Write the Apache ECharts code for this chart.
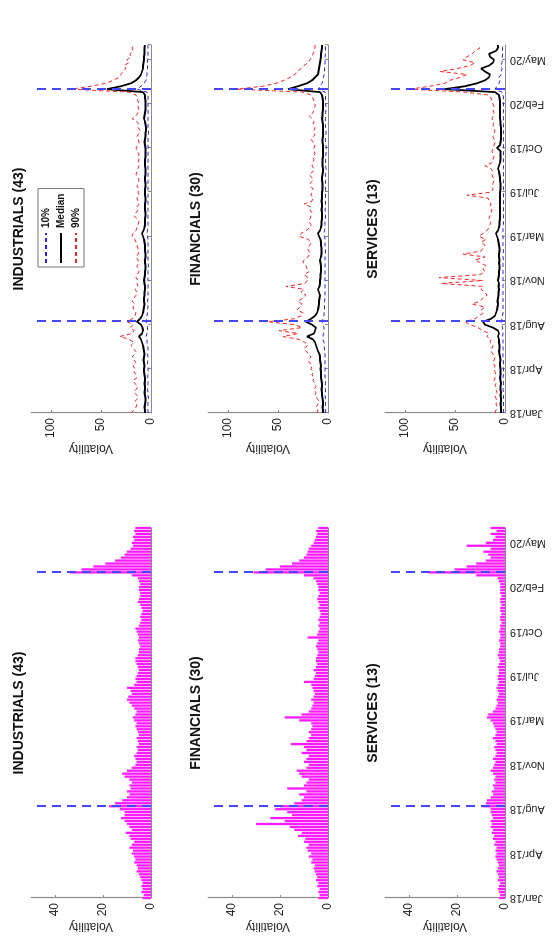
<!DOCTYPE html>
<html>
<head>
<meta charset="utf-8">
<script src="https://cdn.jsdelivr.net/npm/echarts@6/dist/echarts.min.js"></script>
<style>
  html, body { margin: 0; padding: 0; background: #fff; width: 556px; height: 941px; overflow: hidden; }
  /* the figure is a landscape page turned a quarter counter-clockwise */
  #chart { position: absolute; left: 0; top: 0; width: 941px; height: 556px;
           transform-origin: 0 0; transform: translate(0px, 941px) rotate(-90deg); }
</style>
</head>
<body>
<div id="chart"></div>
<script>
// weekly points, index 0 = first week of Jan/18
const tickLabels = ['Jan/18', 'Apr/18', 'Aug/18', 'Nov/18', 'Mar/19', 'Jul/19', 'Oct/19', 'Feb/20', 'May/20'];
const eventWeeks = [31, 110];
const sectors = ['INDUSTRIALS (43)', 'FINANCIALS (30)', 'SERVICES (13)'];

// left column: bars
const indBar = [3.5,3,4,3.5,4,3.5,4,4.5,5,6,5.5,6,7,6.5,7,
  8,7.5,9,8,7,8.5,9,10.5,8,9,10,11,12.5,11,11,
  13,17.5,15,12,10,9,10,8.5,9,8,9,11,12,10,8,
  6.5,6,6.5,7,6,5.5,6,5,5.5,6,5,5.5,6,6.5,6,
  7,7.5,6.5,6,7,8,9,10,9.5,8,8.5,10,7,6,6.5,
  6,5.5,5,5.5,6,6.5,6.5,5.5,5,5,4.5,5,5.5,5,5.5,
  6,6.5,5,4.5,4,4.5,4,3.5,4,4.5,5.5,5,4.5,4.5,5,
  5,4.5,5,5.5,8,34,29,24,19,15,12.5,11,10,8.5,7.5,
  8,7,7.5,6.5,7,6.5];
const finBar = [4,3.5,4,3.5,4.5,4,5,4.5,5,5.5,6,5.5,7,6.5,8,
  7,8.5,9,8,10,9.5,12.5,11,14,16,30,18,24,15,17,
  22,20,14,11,10,12,9,17,10,9,8,11,12,13,9,
  8,10,9,8,11,9,10,15.5,9,8,7,8,7,6.5,7,
  12,18,11,8,7,6.5,6,7,6,5.5,6,6.5,7,10,6,
  5.5,5,6,5,4.5,5,5,4.5,4,4.5,5,4.5,4,8.5,4.5,
  4,3.5,4,3.5,4,3.5,3,3.5,4,3.5,4,4.5,4,3.5,4,
  4,4.5,5,6,10,31,26,20,15,12,10,9,8.5,8,7,
  6,5.5,5,4.5,5,4];
const srvBar = [2.5,2,2.5,3,2.5,2,3,2.5,3,3.5,3,2.5,3,3.5,4,
  3.5,4,3.5,4.5,4,5,4.5,5.5,5,6,5.5,6,5,5.5,6,
  6,9.5,8,7.5,6,5,5.5,4.5,5,4,4.5,4,5,6,5,
  4.5,4,5,4,3.5,4,4.5,3.5,4,5,4,3.5,4,4.5,5,
  6,7.5,7,5,4,3.5,3,3.5,3,2.5,3,3.5,3,2.5,3,
  3,2.5,2.5,3,2.5,2,2.5,3,2.5,2.5,2,2,2.5,2,2,
  2.5,2,2,1.5,2,2,1.5,2,2,1.5,2,2,1.5,2,2,
  2,2,2.5,3,12,32,21,16,12,8,6,7,9,6,16,
  8,5,4,6,3.5,6];

// right column: 10% / median / 90%
const indP10 = [3,3,3.5,3,3,2.5,3,3,3.5,3,3,3,3.5,3,3,
  3,3,3.5,3,3,3.5,3,3,3.5,4,4,5,4,3.5,3.5,
  4,5,4.5,4,3.5,3.5,3,3,3.5,3,3,3,3,3,3,
  3,3,3,3,3,2.5,3,3,3,3,3,3,3,3,3,
  3.5,4,3.5,3,3,3,3,3,3,3,3,3,3,3,3,
  3,3,3,3,3,3,3,2.5,3,3,3,3,3,3,3,
  3,3,3,3,3,2.5,2.5,3,3,3,3,3,3,3,3,
  3,3,3,3,4,14,10,7,5,4.5,4,4,3.5,3.5,3.5,
  3.5,3,3,3,3,3];
const indMed = [6,6,6.5,6,5.5,5.5,6,6.5,6,6,6.5,6,6,6.5,7,
  7,6.5,7,7.5,7,6.5,7,7.5,8,9,10,12,9,8,8.5,
  10,14,11,9,8,7.5,7,6.5,7,7,6.5,6.5,6,6,6.5,
  7,6.5,6,6,5.5,5.5,6,6,5.5,5.5,6,6,6,6.5,7,
  8,9,7.5,6.5,6,6,6,5.5,5.5,6,6,6,5.5,5.5,6,
  6,6,5.5,5.5,6,6,5.5,5.5,5.5,6,6,6,5.5,5.5,5.5,
  5.5,6,6.5,6,5.5,5.5,5,5,5.5,6,7,6.5,6,5.5,5.5,
  5.5,5.5,6,6,8,44,30,20,15,12,10,9,8,8,7.5,
  7,7,6.5,6.5,6.5,6];
const indP90 = [20,17,15,14,16,13,14,17,15,13,16,18,14,15,17,
  16,18,15,17,19,16,15,18,20,17,22,31,19,17,21,
  18,24,19,16,15,17,18,16,19,17,15,14,16,13,14,
  13,15,14,12,13,14,12,13,15,13,12,13,14,15,16,
  19,18,15,14,13,12,14,17,15,13,14,12,13,14,12,
  13,12,14,13,12,13,15,14,13,12,13,12,13,12,14,
  15,13,12,13,14,12,11,13,12,14,19,15,13,12,13,
  12,13,14,15,22,80,60,45,38,32,30,28,25,27,22,
  24,20,21,18,19,17];

const finP10 = [2.5,2.5,3,2.5,2.5,2.5,3,2.5,2.5,3,2.5,2.5,3,3,3,
  3,3,3,3,3,3,3.5,3.5,4,4,5,5,4.5,4,4,
  5,6,5,4,4,3.5,3.5,3.5,3.5,3,3,3,3,3,3,
  3,3,3,3,3,3,3,3,3,2.5,2.5,2.5,3,3,3,
  3.5,4,3.5,3,3,3,2.5,2.5,2.5,3,2.5,2.5,2.5,2.5,2.5,
  2.5,2.5,2.5,2.5,2.5,2.5,2.5,2,2,2.5,2.5,2.5,2.5,2,2,
  2,2,2.5,2.5,2.5,2,2,2.5,2.5,2.5,2.5,2.5,2.5,2,2,
  2.5,2.5,2.5,2.5,3,10,8,6,5,4.5,4,3.5,3.5,3,3,
  3,3,2.5,2.5,2.5,2.5];
const finMed = [5,5,5.5,5,5,5.5,6,6,6.5,6,6,6.5,7,7,7,
  7.5,7,7.5,8,8,8.5,10,11,12,13,15,21,14,13,12,
  16,22,17,13,11,10,9.5,9,9,8.5,8,9,10,8.5,8,
  8,7.5,7.5,7,7,7,7.5,8,7,6.5,6.5,6.5,7,7,7.5,
  9,10,8,7,6.5,6.5,6,6,6,6.5,6,6,6.5,6,6,
  6,5.5,5.5,5.5,6,6,5.5,5,5,5.5,5.5,5.5,5,5,5,
  5,5,5.5,5.5,5,5,5,5,5,5.5,6,5.5,5.5,5,5,
  5,5,5.5,6,8,40,30,21,16,13,10,9.5,9,8.5,8,
  7.5,7,7,6.5,6,6];
const finP90 = [11,10,12,10,9,11,13,12,14,12,13,15,14,16,15,
  17,16,18,20,17,19,22,24,20,23,29,45,30,49,26,
  33,60,34,27,25,31,28,26,30,25,22,27,24,42,23,
  21,20,24,19,21,22,25,24,20,18,19,21,18,17,20,
  29,27,22,18,17,19,18,17,16,18,17,24,16,15,17,
  16,15,17,18,15,16,19,15,14,16,15,14,15,13,14,
  14,13,15,17,14,13,14,13,15,14,16,19,15,14,13,
  13,14,15,17,25,91,65,52,44,38,33,31,27,24,20,
  18,16,15,14,13,13];

const srvP10 = [1.5,1.5,1.5,1.5,1.5,1.5,1.5,1.5,2,1.5,1.5,1.5,2,1.5,1.5,
  1.5,2,1.5,1.5,2,2,1.5,2,2,2,2,2.5,2,2,2.5,
  3,4,3,2.5,2,2,2,2,2,2,2,2,2,2,2,
  2,2,2,2,2,2,2,1.5,2,2,1.5,2,2,2,2,
  2,2.5,2,2,1.5,1.5,1.5,1.5,1.5,1.5,1.5,1.5,1.5,1.5,1.5,
  1.5,1.5,1.5,1.5,1.5,1.5,1.5,1.5,1.5,1.5,1.5,1.5,1.5,1.5,1.5,
  1.5,1.5,1.5,1.5,1.5,1.5,1.5,1.5,1.5,1.5,1.5,1.5,1.5,1.5,1.5,
  1.5,1.5,1.5,2,3,10,8,6,5,6,4,3.5,3,4,3,
  3,2.5,2.5,2.5,2.5,2];
const srvMed = [4,4,4,4.5,4,4,4.5,4,4.5,4.5,4,4.5,5,4.5,4.5,
  4.5,5,5,4.5,5,5.5,6,5.5,5.5,6,6,7,6,7,12,
  20,22,14,10,9,8,7.5,7,7.5,7,6.5,6.5,6,6.5,6,
  7,6.5,6,6,5.5,5.5,6,5.5,6,6,5.5,5.5,6,6.5,7,
  8,9,7,6,5.5,5.5,5,5,5,5,5,5,5,5,5,
  5,4.5,4.5,4.5,5,5,5.5,6,7,6,5,4.5,4.5,4.5,4.5,
  8,5,4.5,4,4,4,4,4,4.5,4.5,5,5,5,5,5,
  5,5,5.5,6,10,60,40,28,20,16,15,20,24,16,12,
  11,15,16,9,7,7];
const srvP90 = [10,9,8,9,8,9,10,8,9,10,9,11,10,9,10,
  11,10,12,11,10,12,14,13,12,15,14,18,16,22,27,
  35,40,30,26,22,24,20,33,25,22,18,20,24,22,64,
  22,66,25,20,22,19,24,30,20,42,24,22,20,24,19,
  26,22,18,16,15,14,16,15,14,13,15,14,16,17,38,
  14,12,13,12,11,12,13,12,14,20,13,12,11,12,13,
  12,11,10,11,12,11,10,11,12,11,13,12,11,12,11,
  12,13,14,16,40,95,75,60,55,45,38,65,48,35,30,
  42,38,33,30,25,27];

const barSets = [indBar, finBar, srvBar];
const lineSets = [[indP10, indMed, indP90], [finP10, finMed, finP90], [srvP10, srvMed, srvP90]];

const FONT = 'Arial, "Liberation Sans", Helvetica, sans-serif';
const rowTop = [31, 208, 385];
const rowH = 120;
const barLeft = 43, barW = 370;
const lineLeft = 528, lineW = 368;
const axisGray = '#8a8a8a';
const eventStyle = { color: '#4646ff', type: [9, 6], width: 2 };

const pairs = arr => arr.map((v, i) => [i, v]);

const grids = [], xAxes = [], yAxes = [], series = [], graphics = [];

function addAxes(r, left, width, yMax, yStep, nameGap) {
  const gi = grids.length;
  grids.push({ left: left, top: rowTop[r], width: width, height: rowH });
  xAxes.push({
    type: 'value', gridIndex: gi, min: 0, max: 125, interval: 15,
    axisLine: { show: true, lineStyle: { color: axisGray, width: 1.2 } },
    axisTick: { show: true, inside: true, length: 3, lineStyle: { color: axisGray } },
    splitLine: { show: false },
    axisLabel: {
      show: r === 2, rotate: 90, margin: 5, fontSize: 11, color: '#222', fontFamily: FONT,
      showMaxLabel: false,
      formatter: v => tickLabels[Math.round(v / 15)] || ''
    }
  });
  yAxes.push({
    type: 'value', gridIndex: gi, min: 0, max: yMax, interval: yStep,
    axisLine: { show: true, lineStyle: { color: axisGray, width: 1.2 } },
    axisTick: { show: true, inside: true, length: 3, lineStyle: { color: axisGray } },
    splitLine: { show: false },
    axisLabel: { margin: 5, fontSize: 12, color: '#222', fontFamily: FONT, showMaxLabel: false },
    name: 'Volatility', nameLocation: 'middle', nameGap: nameGap,
    nameTextStyle: { fontSize: 12, color: '#222', fontFamily: FONT }
  });
  return gi;
}

const eventLine = {
  symbol: 'none', silent: true, label: { show: false },
  lineStyle: eventStyle,
  data: eventWeeks.map(w => ({ xAxis: w }))
};

for (let r = 0; r < 3; r++) {
  // bars
  let gi = addAxes(r, barLeft, barW, 50, 20, 17);
  series.push({
    type: 'bar', xAxisIndex: gi, yAxisIndex: gi, data: pairs(barSets[r]),
    barWidth: 2.3, itemStyle: { color: '#ff1aff' }, silent: true,
    markLine: eventLine, z: 2
  });
  graphics.push({
    type: 'text', x: barLeft + barW / 2, y: rowTop[r] - 12,
    style: { text: sectors[r], align: 'center', verticalAlign: 'middle',
             font: 'bold 14px ' + FONT, fill: '#111' }
  });

  // percentile lines
  gi = addAxes(r, lineLeft, lineW, 120, 50, 25);
  const [p10, med, p90] = lineSets[r];
  series.push({
    name: '10%', type: 'line', xAxisIndex: gi, yAxisIndex: gi, data: pairs(p10),
    symbol: 'none', lineStyle: { color: '#2020ff', width: 1, type: [4, 3] },
    itemStyle: { color: '#2020ff' }, silent: true, z: 2
  });
  series.push({
    name: 'Median', type: 'line', xAxisIndex: gi, yAxisIndex: gi, data: pairs(med),
    symbol: 'none', lineStyle: { color: '#000', width: 1.8 },
    itemStyle: { color: '#000' }, silent: true, z: 3
  });
  series.push({
    name: '90%', type: 'line', xAxisIndex: gi, yAxisIndex: gi, data: pairs(p90),
    symbol: 'none', lineStyle: { color: '#ff2020', width: 1, type: [4, 3] },
    itemStyle: { color: '#ff2020' }, silent: true, z: 4,
    markLine: eventLine
  });
  graphics.push({
    type: 'text', x: lineLeft + lineW / 2, y: rowTop[r] - 12,
    style: { text: sectors[r], align: 'center', verticalAlign: 'middle',
             font: 'bold 14px ' + FONT, fill: '#111' }
  });
}

const chart = echarts.init(document.getElementById('chart'));
chart.setOption({
  backgroundColor: '#fff',
  animation: false,
  grid: grids,
  xAxis: xAxes,
  yAxis: yAxes,
  series: series,
  graphic: graphics,
  legend: {
    data: ['10%', 'Median', '90%'],
    orient: 'vertical', left: 674, top: 38,
    itemWidth: 30, itemHeight: 11, itemGap: 5,
    padding: [3, 5, 3, 3],
    borderColor: '#777', borderWidth: 1,
    selectedMode: false,
    itemStyle: { opacity: 0 },
    textStyle: { fontSize: 10, fontWeight: 'bold', color: '#111', fontFamily: FONT }
  }
});
</script>
</body>
</html>
